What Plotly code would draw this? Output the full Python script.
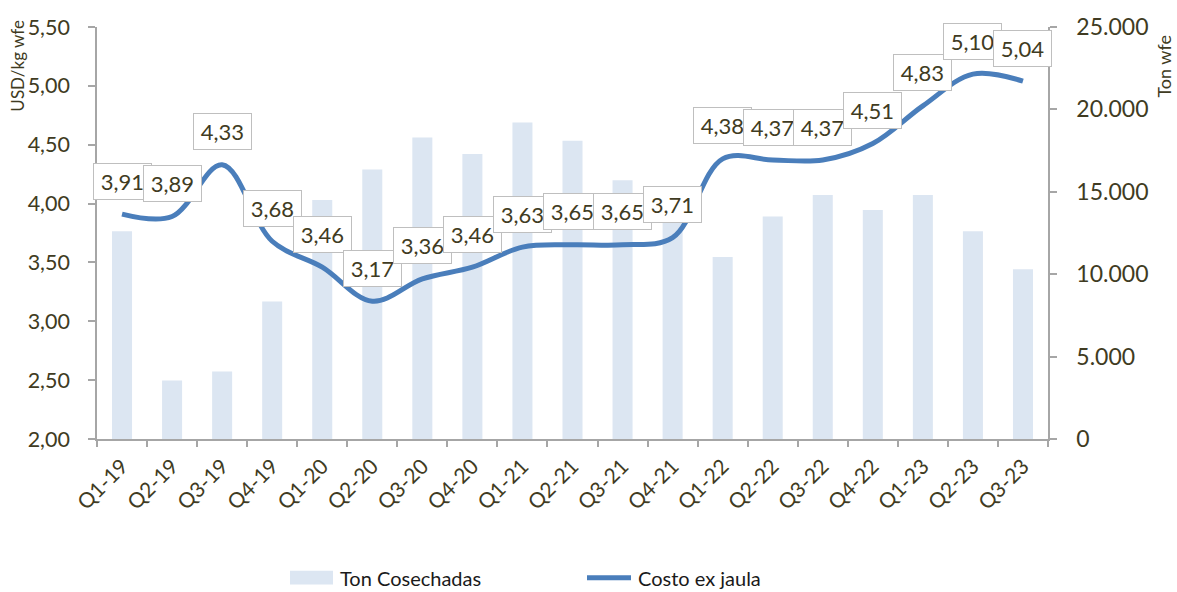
import plotly.graph_objects as go

categories = ["Q1-19", "Q2-19", "Q3-19", "Q4-19", "Q1-20", "Q2-20", "Q3-20", "Q4-20",
              "Q1-21", "Q2-21", "Q3-21", "Q4-21", "Q1-22", "Q2-22", "Q3-22", "Q4-22",
              "Q1-23", "Q2-23", "Q3-23"]
ton_cosechadas = [12600, 3550, 4100, 8350, 14500, 16350, 18300, 17300, 19200, 18100,
                  15700, 13400, 11050, 13500, 14800, 13900, 14800, 12600, 10300]
costo_ex_jaula = [3.91, 3.89, 4.33, 3.68, 3.46, 3.17, 3.36, 3.46, 3.63, 3.65,
                  3.65, 3.71, 4.38, 4.37, 4.37, 4.51, 4.83, 5.10, 5.04]

FONT = "Lato, 'Open Sans', sans-serif"
TXT = "#403b22"
AXIS = "#a6a6a6"

W, H = 1177, 592
L, R, T, B = 97, 1048, 23, 439

def px(x):
    return (x - L) / (R - L)

def py(y):
    return (B - y) / (B - T)

fig = go.Figure()
fig.add_trace(go.Bar(x=categories, y=ton_cosechadas, name="Ton Cosechadas",
                     marker=dict(color="#dce6f2", line=dict(width=0)),
                     yaxis="y", showlegend=False))
fig.add_trace(go.Scatter(x=categories, y=costo_ex_jaula, name="Costo ex jaula",
                         mode="lines", line=dict(color="#4a7ebb", width=5, shape="spline", smoothing=1),
                         yaxis="y2", showlegend=False))

annotations = []
for c, v in zip(categories, costo_ex_jaula):
    annotations.append(dict(x=c, y=v, xref="x", yref="y2", text=f"{v:.2f}".replace(".", ","),
                            showarrow=False, yshift=33, bgcolor="white", bordercolor="#bfbfbf",
                            borderwidth=1, borderpad=4, width=49, height=27,
                            font=dict(family=FONT, size=22, color=TXT)))

# axis titles
annotations.append(dict(x=px(18), y=py(62), xref="paper", yref="paper", text="USD/kg wfe",
                        textangle=-90, showarrow=False, xanchor="center", yanchor="middle",
                        font=dict(family=FONT, size=17, color=TXT)))
annotations.append(dict(x=px(1164), y=py(63), xref="paper", yref="paper", text="Ton wfe",
                        textangle=-90, showarrow=False, xanchor="center", yanchor="middle",
                        font=dict(family=FONT, size=18, color=TXT)))

# legend
annotations.append(dict(x=px(338), y=py(579), xref="paper", yref="paper", text="Ton Cosechadas",
                        xanchor="left", yanchor="middle", showarrow=False,
                        font=dict(family=FONT, size=20, color="#1a1a1a")))
annotations.append(dict(x=px(636), y=py(579), xref="paper", yref="paper", text="Costo ex jaula",
                        xanchor="left", yanchor="middle", showarrow=False,
                        font=dict(family=FONT, size=20, color="#1a1a1a")))
shapes = [
    dict(type="rect", xref="paper", yref="paper", x0=px(290), x1=px(333), y0=py(586), y1=py(572),
         fillcolor="#dce6f2", line=dict(width=0)),
    dict(type="line", xref="paper", yref="paper", x0=px(587), x1=px(631), y0=py(579), y1=py(579),
         line=dict(color="#4a7ebb", width=5)),
]

fig.update_layout(
    width=W, height=H,
    margin=dict(l=L, r=W - R, t=T, b=H - B),
    paper_bgcolor="white", plot_bgcolor="white",
    separators=",.",
    bargap=0.6,
    showlegend=False,
    xaxis=dict(type="category", range=[-0.5, 18.5], showline=True, linecolor=AXIS, linewidth=1.5,
               ticks="outside", tickson="boundaries", ticklen=6, tickcolor=AXIS, tickwidth=1.5,
               tickangle=-45, tickfont=dict(family=FONT, size=21, color=TXT), showgrid=False,
               ticklabelstandoff=5),
    yaxis=dict(side="right", range=[0, 25000], dtick=5000, tickformat=",.0f", showline=True,
               linecolor=AXIS, linewidth=1.5, ticks="outside", ticklen=7, tickcolor=AXIS, tickwidth=1.5,
               tickfont=dict(family=FONT, size=23, color=TXT), showgrid=False, zeroline=False,
               ticklabelstandoff=15),
    yaxis2=dict(side="left", overlaying="y", range=[2, 5.5], dtick=0.5, tickformat=".2f",
                showline=True, linecolor=AXIS, linewidth=1.5, ticks="outside", ticklen=7,
                tickcolor=AXIS, tickwidth=1.5, tickfont=dict(family=FONT, size=21.5, color=TXT),
                showgrid=False, zeroline=False, ticklabelstandoff=14),
    annotations=annotations,
    shapes=shapes,
)

fig.write_html("out.html", config={"displayModeBar": False},
               post_script="document.body.style.margin='0';")
